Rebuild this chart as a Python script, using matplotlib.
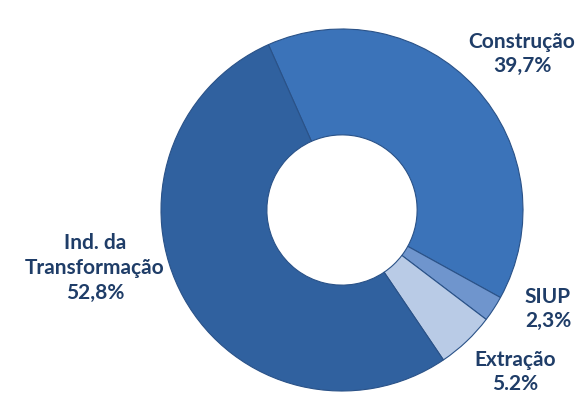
import matplotlib.pyplot as plt

# shares by sector (%)
sectors = ['Construção', 'SIUP', 'Extração', 'Ind. da\nTransformação']
shares = [39.7, 2.3, 5.2, 52.8]
share_labels = ['39,7%', '2,3%', '5.2%', '52,8%']
colors = ['#3B73B9', '#6F95CD', '#B9CBE6', '#30619F']

W, H = 579, 394
fig = plt.figure(figsize=(W / 100, H / 100), dpi=100)
ax = fig.add_axes([0, 0, 1, 1])

cx, cy, R = 342, H - 210, 181
wedges, _ = ax.pie(shares, colors=colors, startangle=114, counterclock=False,
                   center=(cx, cy), radius=R, frame=True,
                   wedgeprops=dict(width=R * 0.585, edgecolor='#2A5288', linewidth=0.8))
ax.set_xlim(0, W)
ax.set_ylim(0, H)
ax.set_aspect('equal')
ax.axis('off')

# label positions in pixel coords (x, y from top)
label_pos = [(522, 54), (548, 309), (515, 372), (95, 268)]
txt_color = '#1F3D68'
for name, lab, (x, y) in zip(sectors, share_labels, label_pos):
    ax.text(x, H - y, name + '\n' + lab, ha='center', va='center',
            fontsize=15, fontweight='bold', color=txt_color,
            family=['Lato', 'DejaVu Sans'], linespacing=1.3)

fig.savefig('out.png', dpi=100)
